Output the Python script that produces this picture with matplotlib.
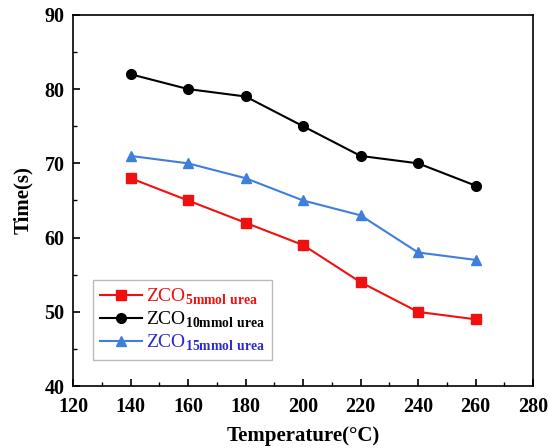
import matplotlib
matplotlib.use("Agg")
import matplotlib.pyplot as plt
from matplotlib.ticker import MultipleLocator

plt.rcParams['font.family'] = 'Liberation Serif'
plt.rcParams['mathtext.fontset'] = 'custom'
plt.rcParams['mathtext.rm'] = 'Liberation Serif'
plt.rcParams['mathtext.bf'] = 'Liberation Serif:bold'

temps = [140, 160, 180, 200, 220, 240, 260]
t_5mmol = [68, 65, 62, 59, 54, 50, 49]
t_10mmol = [82, 80, 79, 75, 71, 70, 67]
t_15mmol = [71, 70, 68, 65, 63, 58, 57]

fig = plt.figure(figsize=(5.49, 4.48), dpi=100)
ax = fig.add_axes([0.133, 0.138, 0.838, 0.829])

ax.plot(temps, t_5mmol, '-s', color='#f01010', lw=1.5, ms=6.5,
        label=r'ZCO$_{\mathbf{5mmol\ urea}}$')
ax.plot(temps, t_10mmol, '-o', color='black', lw=1.5, ms=7,
        label=r'ZCO$_{\mathbf{10mmol\ urea}}$')
ax.plot(temps, t_15mmol, '-^', color='#3f7fdc', lw=1.5, ms=7.5,
        label=r'ZCO$_{\mathbf{15mmol\ urea}}$')

ax.set_xlim(120, 280)
ax.set_ylim(40, 90)
ax.xaxis.set_major_locator(MultipleLocator(20))
ax.xaxis.set_minor_locator(MultipleLocator(10))
ax.yaxis.set_major_locator(MultipleLocator(10))
ax.yaxis.set_minor_locator(MultipleLocator(5))
ax.tick_params(which='both', direction='in', top=False, right=False)
ax.tick_params(which='major', length=5, width=1.2, labelsize=14.5)
ax.tick_params(axis='x', which='major', pad=8)
ax.tick_params(axis='y', which='major', pad=6)
ax.tick_params(which='minor', length=3, width=1.0)
for lab in ax.get_xticklabels() + ax.get_yticklabels():
    lab.set_fontweight('bold')
for sp in ax.spines.values():
    sp.set_linewidth(1.2)

ax.set_xlabel('Temperature(°C)', fontsize=15, fontweight='bold', labelpad=6)
ax.set_ylabel('Time(s)', fontsize=15, fontweight='bold', labelpad=8)

leg = ax.legend(loc='lower left', bbox_to_anchor=(0.043, 0.07), fontsize=14,
                frameon=True, fancybox=False, edgecolor='#aaaaaa',
                handlelength=2.2, handletextpad=0.2, labelspacing=0.15,
                borderpad=0.35, borderaxespad=0)
leg.get_frame().set_linewidth(1.0)
for txt, c in zip(leg.get_texts(), ['#f01010', 'black', '#2a2ad0']):
    txt.set_color(c)

fig.savefig('out.png', dpi=100)
